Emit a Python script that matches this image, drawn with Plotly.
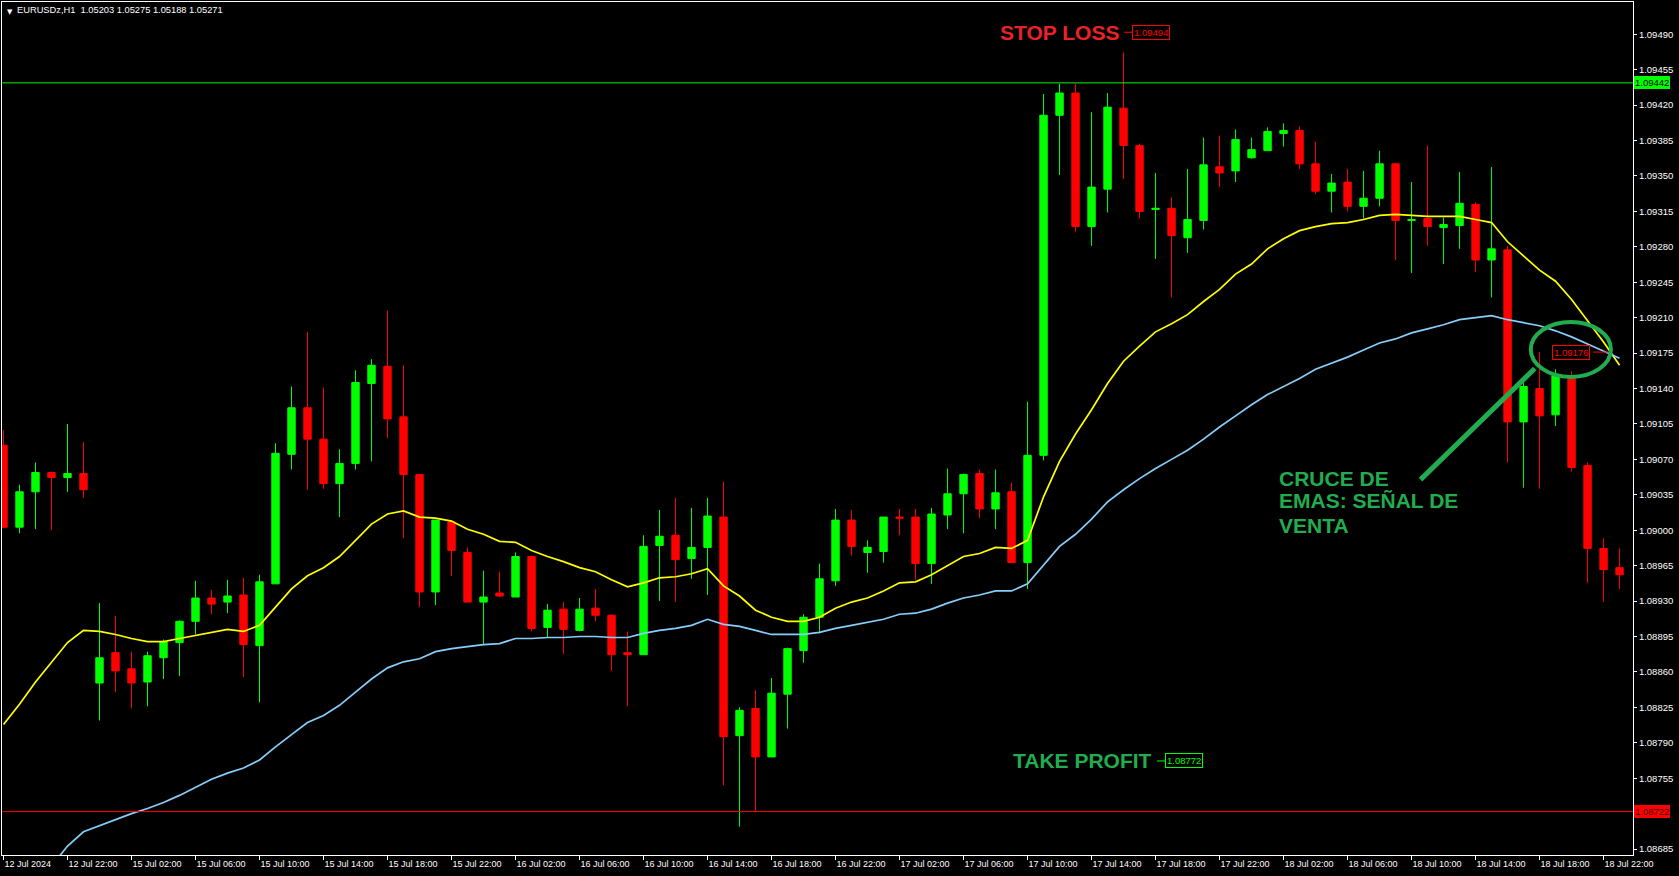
import plotly.graph_objects as go

# ---------------- data ----------------
opens = [1.09084, 1.09003, 1.09038, 1.09057, 1.09052, 1.09056, 1.08849, 1.08879, 1.08863, 1.08850,
         1.08874, 1.08889, 1.08910, 1.08933, 1.08929, 1.08936, 1.08886, 1.08947, 1.09075, 1.09121,
         1.09090, 1.09046, 1.09066, 1.09145, 1.09162, 1.09112, 1.09055, 1.08939, 1.09008, 1.08978,
         1.08929, 1.08938, 1.08934, 1.08974, 1.08904, 1.08922, 1.08901, 1.08923, 1.08916, 1.08879,
         1.08877, 1.08985, 1.08995, 1.08972, 1.08983, 1.09013, 1.08797, 1.08824, 1.08776, 1.08838,
         1.08881, 1.08914, 1.08950, 1.09010, 1.08978, 1.08979, 1.09013, 1.09013, 1.08967, 1.09015,
         1.09036, 1.09056, 1.09021, 1.09038, 1.08968, 1.09074, 1.09410, 1.09432, 1.09300, 1.09337,
         1.09417, 1.09380, 1.09317, 1.09318, 1.09289, 1.09306, 1.09359, 1.09355, 1.09368, 1.09375,
         1.09392, 1.09395, 1.09362, 1.09335, 1.09344, 1.09320, 1.09328, 1.09362, 1.09306, 1.09308,
         1.09299, 1.09301, 1.09322, 1.09267, 1.09277, 1.09107, 1.09140, 1.09114, 1.09150, 1.09064,
         1.08982, 1.08963]
highs = [1.09099, 1.09045, 1.09067, 1.09057, 1.09105, 1.09087, 1.08928, 1.08915, 1.08880, 1.08880,
         1.08892, 1.08911, 1.08950, 1.08941, 1.08951, 1.08953, 1.08956, 1.09086, 1.09142, 1.09196,
         1.09141, 1.09080, 1.09158, 1.09169, 1.09217, 1.09163, 1.09055, 1.09010, 1.09010, 1.08983,
         1.08960, 1.08959, 1.08978, 1.08975, 1.08927, 1.08929, 1.08933, 1.08942, 1.08917, 1.08900,
         1.08995, 1.09020, 1.09032, 1.09022, 1.09032, 1.09048, 1.08825, 1.08842, 1.08854, 1.08884,
         1.08917, 1.08967, 1.09021, 1.09020, 1.08990, 1.09013, 1.09021, 1.09021, 1.09022, 1.09061,
         1.09056, 1.09060, 1.09060, 1.09047, 1.09127, 1.09431, 1.09441, 1.09441, 1.09413, 1.09432,
         1.09472, 1.09382, 1.09353, 1.09329, 1.09357, 1.09388, 1.09390, 1.09396, 1.09388, 1.09398,
         1.09402, 1.09399, 1.09384, 1.09352, 1.09357, 1.09355, 1.09375, 1.09363, 1.09344, 1.09380,
         1.09309, 1.09354, 1.09324, 1.09359, 1.09281, 1.09146, 1.09176, 1.09159, 1.09157, 1.09067,
         1.08992, 1.08982]
lows = [1.09002, 1.08997, 1.09001, 1.09000, 1.09038, 1.09032, 1.08812, 1.08840, 1.08824, 1.08826,
        1.08853, 1.08856, 1.08897, 1.08917, 1.08918, 1.08855, 1.08830, 1.08947, 1.09060, 1.09040,
        1.09041, 1.09013, 1.09060, 1.09068, 1.09091, 1.08992, 1.08924, 1.08926, 1.08955, 1.08929,
        1.08887, 1.08934, 1.08934, 1.08900, 1.08894, 1.08878, 1.08900, 1.08910, 1.08861, 1.08826,
        1.08877, 1.08930, 1.08929, 1.08952, 1.08936, 1.08748, 1.08707, 1.08722, 1.08776, 1.08804,
        1.08869, 1.08898, 1.08945, 1.08975, 1.08958, 1.08968, 1.08995, 1.08951, 1.08947, 1.09001,
        1.08997, 1.09012, 1.09001, 1.08968, 1.08942, 1.09069, 1.09351, 1.09295, 1.09281, 1.09314,
        1.09347, 1.09308, 1.09268, 1.09230, 1.09274, 1.09297, 1.09339, 1.09344, 1.09367, 1.09375,
        1.09379, 1.09357, 1.09332, 1.09314, 1.09315, 1.09308, 1.09320, 1.09267, 1.09254, 1.09281,
        1.09263, 1.09278, 1.09255, 1.09230, 1.09067, 1.09042, 1.09041, 1.09103, 1.09058, 1.08948,
        1.08929, 1.08942]
closes = [1.09003, 1.09038, 1.09057, 1.09052, 1.09056, 1.09040, 1.08874, 1.08861, 1.08849, 1.08876,
          1.08890, 1.08910, 1.08933, 1.08927, 1.08935, 1.08887, 1.08949, 1.09076, 1.09121, 1.09090,
          1.09046, 1.09066, 1.09146, 1.09163, 1.09110, 1.09055, 1.08939, 1.09010, 1.08980, 1.08929,
          1.08934, 1.08935, 1.08974, 1.08903, 1.08921, 1.08902, 1.08922, 1.08916, 1.08877, 1.08877,
          1.08984, 1.08994, 1.08971, 1.08983, 1.09014, 1.08796, 1.08822, 1.08776, 1.08839, 1.08883,
          1.08914, 1.08952, 1.09010, 1.08984, 1.08983, 1.09013, 1.09012, 1.08967, 1.09016, 1.09036,
          1.09055, 1.09021, 1.09037, 1.08968, 1.09074, 1.09410, 1.09432, 1.09300, 1.09339, 1.09418,
          1.09380, 1.09315, 1.09318, 1.09291, 1.09307, 1.09361, 1.09353, 1.09386, 1.09376, 1.09394,
          1.09395, 1.09362, 1.09335, 1.09343, 1.09320, 1.09328, 1.09362, 1.09306, 1.09307, 1.09300,
          1.09302, 1.09323, 1.09267, 1.09278, 1.09107, 1.09142, 1.09113, 1.09153, 1.09062, 1.08982,
          1.08961, 1.08956]
ema_fast = [1.08808, 1.08828, 1.08850, 1.08870, 1.08889, 1.08901, 1.08900, 1.08897, 1.08893, 1.08890,
            1.08890, 1.08893, 1.08896, 1.08899, 1.08902, 1.08900, 1.08906, 1.08924, 1.08942, 1.08955,
            1.08963, 1.08974, 1.08990, 1.09006, 1.09016, 1.09019, 1.09013, 1.09012, 1.09009, 1.09001,
            1.08996, 1.08989, 1.08988, 1.08980, 1.08974, 1.08969, 1.08963, 1.08959, 1.08951, 1.08944,
            1.08948, 1.08953, 1.08954, 1.08957, 1.08962, 1.08945, 1.08935, 1.08921, 1.08914, 1.08910,
            1.08910, 1.08914, 1.08923, 1.08929, 1.08933, 1.08940, 1.08948, 1.08949, 1.08956, 1.08965,
            1.08974, 1.08977, 1.08983, 1.08982, 1.08990, 1.09033, 1.09068, 1.09095, 1.09119, 1.09145,
            1.09167, 1.09182, 1.09196, 1.09204, 1.09213, 1.09226, 1.09238, 1.09253, 1.09263, 1.09278,
            1.09288, 1.09296, 1.09300, 1.09303, 1.09304, 1.09307, 1.09311, 1.09312, 1.09311, 1.09310,
            1.09310, 1.09310, 1.09307, 1.09304, 1.09285, 1.09271, 1.09257, 1.09246, 1.09228, 1.09207,
            1.09186, 1.09163]
ema_slow = [1.08608, 1.08628, 1.08648, 1.08668, 1.08688, 1.08702, 1.08708, 1.08714, 1.08720, 1.08725,
            1.08731, 1.08738, 1.08746, 1.08754, 1.08760, 1.08765, 1.08773, 1.08786, 1.08798, 1.08810,
            1.08817, 1.08827, 1.08840, 1.08853, 1.08864, 1.08870, 1.08873, 1.08880, 1.08883, 1.08885,
            1.08887, 1.08888, 1.08893, 1.08893, 1.08894, 1.08894, 1.08895, 1.08895, 1.08894, 1.08894,
            1.08898, 1.08901, 1.08903, 1.08906, 1.08912, 1.08907, 1.08905, 1.08901, 1.08897, 1.08897,
            1.08897, 1.08899, 1.08903, 1.08906, 1.08909, 1.08912, 1.08917, 1.08918, 1.08922, 1.08928,
            1.08933, 1.08936, 1.08940, 1.08940, 1.08947, 1.08966, 1.08984, 1.08996, 1.09011, 1.09028,
            1.09040, 1.09051, 1.09061, 1.09070, 1.09079, 1.09090, 1.09102, 1.09113, 1.09124, 1.09134,
            1.09142, 1.09150, 1.09159, 1.09165, 1.09171, 1.09178, 1.09185, 1.09189, 1.09195, 1.09199,
            1.09203, 1.09208, 1.09210, 1.09212, 1.09208, 1.09205, 1.09202, 1.09197, 1.09191, 1.09184,
            1.09177, 1.09170]
time_labels = ["12 Jul 2024", "12 Jul 22:00", "15 Jul 02:00", "15 Jul 06:00", "15 Jul 10:00",
               "15 Jul 14:00", "15 Jul 18:00", "15 Jul 22:00", "16 Jul 02:00", "16 Jul 06:00",
               "16 Jul 10:00", "16 Jul 14:00", "16 Jul 18:00", "16 Jul 22:00", "17 Jul 02:00",
               "17 Jul 06:00", "17 Jul 10:00", "17 Jul 14:00", "17 Jul 18:00", "17 Jul 22:00",
               "18 Jul 02:00", "18 Jul 06:00", "18 Jul 10:00", "18 Jul 14:00", "18 Jul 18:00",
               "18 Jul 22:00"]
time_label_bars = [0, 4, 8, 12, 16, 20, 24, 28, 32, 36, 40, 44, 48, 52, 56, 60, 64, 68, 72, 76,
                   80, 84, 88, 92, 96, 100]
price_ticks = [1.08685, 1.08720, 1.08755, 1.08790, 1.08825, 1.08860, 1.08895, 1.08930, 1.08965,
               1.09000, 1.09035, 1.09070, 1.09105, 1.09140, 1.09175, 1.09210, 1.09245, 1.09280,
               1.09315, 1.09350, 1.09385, 1.09420, 1.09455, 1.09490]
stop_line = 1.09442
take_line = 1.08722
stop_loss_label = 1.09494
take_profit_label = 1.08772
cross_label = 1.09176
header = "EURUSDz,H1  1.05203 1.05275 1.05188 1.05271"

bars = list(range(len(opens)))

GREEN_TXT = "#22ac50"
RED_TXT = "#ea2228"
FONT = "Liberation Sans"
BIG = 21

fig = go.Figure()
fig.add_trace(go.Candlestick(
    x=bars, open=opens, high=highs, low=lows, close=closes,
    increasing=dict(line=dict(color="#00ff00", width=1), fillcolor="#00ff00"),
    decreasing=dict(line=dict(color="#ff0000", width=1), fillcolor="#ff0000"),
    whiskerwidth=0, hoverinfo="skip"))
fig.add_trace(go.Scatter(x=bars, y=ema_fast, mode="lines",
                         line=dict(color="#ffff00", width=1.7), hoverinfo="skip"))
fig.add_trace(go.Scatter(x=bars, y=ema_slow, mode="lines",
                         line=dict(color="#87cefa", width=1.7), hoverinfo="skip"))

shapes = [
    dict(type="line", xref="paper", x0=0, x1=1, yref="y", y0=stop_line, y1=stop_line,
         line=dict(color="#00ff00", width=1)),
    dict(type="line", xref="paper", x0=0, x1=1, yref="y", y0=take_line, y1=take_line,
         line=dict(color="#ff0000", width=1)),
    # small leader dashes next to the labels
    dict(type="line", xref="x", yref="y", x0=70.03, x1=70.53, y0=1.09492, y1=1.09492,
         line=dict(color="#ff0000", width=1)),
    dict(type="line", xref="x", yref="y", x0=72.09, x1=72.59, y0=1.08772, y1=1.08772,
         line=dict(color="#00ff00", width=1)),
    dict(type="line", xref="x", yref="y", x0=99.34, x1=100.28, y0=cross_label, y1=cross_label,
         line=dict(color="#ff0000", width=1)),
    # ellipse around the crossing
    dict(type="circle", xref="x", yref="y", x0=95.45, x1=100.46, y0=1.091515, y1=1.092058,
         line=dict(color=GREEN_TXT, width=4)),
    # pointer line
    dict(type="line", xref="x", yref="y", x0=88.56, y0=1.090500, x1=95.70, y1=1.091597,
         line=dict(color=GREEN_TXT, width=5)),
]

ann = []
ann.append(dict(text="▼", xref="paper", yref="paper", x=0, y=1, xanchor="left", yanchor="top",
                xshift=3, yshift=-4, showarrow=False, font=dict(color="white", size=7, family="DejaVu Sans")))
ann.append(dict(text=header, xref="paper", yref="paper", x=0, y=1, xanchor="left", yanchor="top",
                xshift=15, yshift=-3, showarrow=False, borderwidth=0, borderpad=0,
                font=dict(color="white", size=9.3, family=FONT)))
ann.append(dict(text="<b>STOP LOSS</b>", xref="x", yref="y", x=69.7, y=1.09492, xanchor="right",
                yanchor="middle", showarrow=False, borderwidth=0, borderpad=0,
                font=dict(color=RED_TXT, size=BIG, family=FONT)))
ann.append(dict(text=f"{stop_loss_label:.5f}", xref="x", yref="y", x=70.55, y=1.09492, xanchor="left",
                yanchor="middle", showarrow=False, bordercolor="#ff0000", borderwidth=1, borderpad=1,
                font=dict(color="#ff0000", size=9.5, family=FONT)))
ann.append(dict(text="<b>TAKE PROFIT</b>", xref="x", yref="y", x=71.8, y=1.08772, xanchor="right",
                yanchor="middle", showarrow=False, borderwidth=0, borderpad=0,
                font=dict(color=GREEN_TXT, size=BIG, family=FONT)))
ann.append(dict(text=f"{take_profit_label:.5f}", xref="x", yref="y", x=72.6, y=1.08772, xanchor="left",
                yanchor="middle", showarrow=False, bordercolor="#00ff00", borderwidth=1, borderpad=1,
                font=dict(color="#00ff00", size=9.5, family=FONT)))
ann.append(dict(text=f"{cross_label:.5f}", xref="x", yref="y", x=96.76, y=cross_label, xanchor="left",
                yanchor="middle", showarrow=False, bordercolor="#ff0000", borderwidth=1, borderpad=1,
                font=dict(color="#ff0000", size=9.5, family=FONT)))
for txt, yy in [("CRUCE DE", 1.090513), ("EMAS: SEÑAL DE", 1.090291), ("VENTA", 1.090050)]:
    ann.append(dict(text=f"<b>{txt}</b>", xref="x", yref="y", x=79.7, y=yy, xanchor="left",
                    yanchor="middle", showarrow=False, borderwidth=0, borderpad=0,
                    font=dict(color=GREEN_TXT, size=BIG, family=FONT)))
# right-axis price tags
ann.append(dict(text=f"{stop_line:.5f}", xref="paper", yref="y", x=1, y=stop_line, xanchor="left",
                yanchor="middle", xshift=1, showarrow=False, bgcolor="#00ff00", borderwidth=0, borderpad=1,
                font=dict(color="black", size=9.5, family=FONT)))
ann.append(dict(text=f"{take_line:.5f}", xref="paper", yref="y", x=1, y=take_line, xanchor="left",
                yanchor="middle", xshift=1, showarrow=False, bgcolor="#ff0000", borderwidth=0, borderpad=1,
                font=dict(color="#400000", size=9.5, family=FONT)))

# the 1.08720 tick label is hidden behind the take-profit tag in the reference
price_tick_text = ["" if abs(v - take_line) < 0.0001 else f"{v:.5f}" for v in price_ticks]

fig.update_layout(
    width=1679, height=876,
    paper_bgcolor="black", plot_bgcolor="black",
    margin=dict(l=2, r=46, t=2, b=21),
    showlegend=False, hovermode=False, boxgap=0.34,
    shapes=shapes, annotations=ann,
    xaxis=dict(range=[-0.094, 101.84], tickmode="array", tickvals=time_label_bars, ticktext=time_labels,
               ticks="outside", ticklen=4, tickcolor="white", ticklabelposition="outside right",
               tickfont=dict(color="white", size=9, family=FONT),
               showgrid=False, zeroline=False, showline=True, mirror=True, linecolor="white", linewidth=1,
               rangeslider=dict(visible=False), fixedrange=True),
    yaxis=dict(range=[1.086791, 1.095219], side="right", tickmode="array", tickvals=price_ticks,
               ticktext=price_tick_text, ticks="outside", ticklen=3, tickcolor="white",
               tickfont=dict(color="white", size=9.5, family=FONT),
               showgrid=False, zeroline=False, showline=True, mirror=True, linecolor="white", linewidth=1,
               fixedrange=True),
)

fig.write_html("out.html", config={"displayModeBar": False},
               post_script="document.body.style.margin='0';document.body.style.background='black';")
